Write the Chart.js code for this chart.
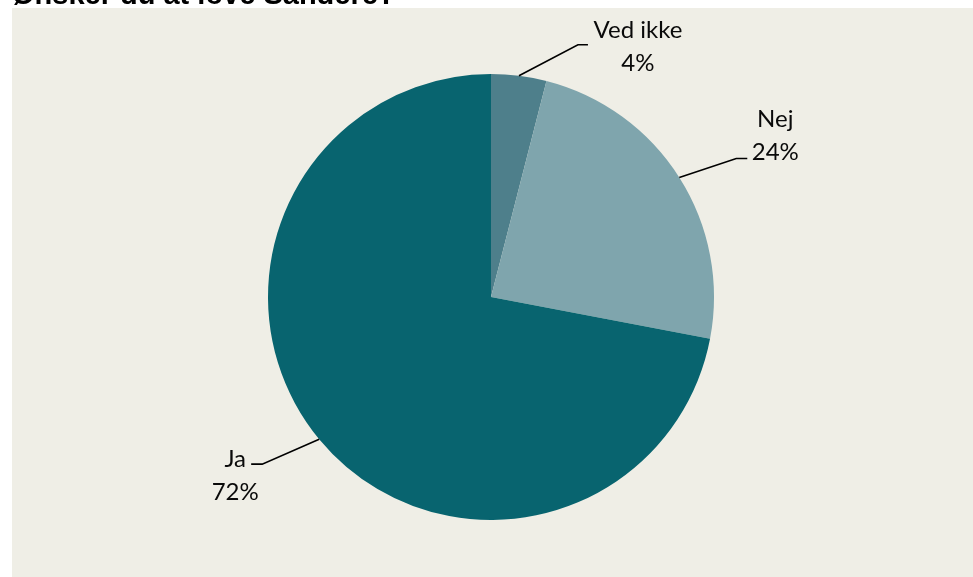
<!DOCTYPE html>
<html>
<head>
<meta charset="utf-8">
<script src="https://cdn.jsdelivr.net/npm/chart.js@4/dist/chart.umd.min.js"></script>
<style>
  html, body { margin: 0; padding: 0; background: #ffffff; }
  #wrap { position: relative; width: 973px; height: 577px; }
</style>
</head>
<body>
<div id="wrap"><canvas id="c" width="973" height="577"></canvas></div>
<script>
// Survey answers and their shares (percent)
const answers = ['Ved ikke', 'Nej', 'Ja'];
const shares = [4, 24, 72];
const sliceColors = ['#4e7f8b', '#7fa5ad', '#08646f'];
const questionTitle = 'Ønsker du at love Sandere?';

// Leader-line callout geometry per slice: elbow offset from the arc edge,
// length/direction of the short horizontal tail, and the text block's centre offset.
const callouts = [
  { elbow: [59, -31], tail: 10, text: [50, 2] },
  { elbow: [57, -19], tail: 11, text: [28, -23] },
  { elbow: [-57, 25], tail: -11, text: [-16, 11] }
];

const panelPlugin = {
  id: 'panel',
  beforeDraw(chart) {
    const ctx = chart.ctx;
    ctx.save();
    ctx.fillStyle = '#ffffff';
    ctx.fillRect(0, 0, chart.width, chart.height);
    ctx.fillStyle = '#efeee6';
    ctx.fillRect(12, 8, chart.width - 12, chart.height - 8);
    // question title, partly clipped by the top edge
    ctx.fillStyle = '#000000';
    ctx.font = 'bold 29px "Liberation Sans", Arial, sans-serif';
    ctx.textAlign = 'left';
    ctx.textBaseline = 'alphabetic';
    ctx.fillText(questionTitle, 12, 4);
    ctx.restore();
  }
};

const calloutPlugin = {
  id: 'callouts',
  afterDatasetsDraw(chart) {
    const ctx = chart.ctx;
    const meta = chart.getDatasetMeta(0);
    ctx.save();
    meta.data.forEach((arc, i) => {
      const p = arc.getProps(['x', 'y', 'startAngle', 'endAngle', 'outerRadius'], true);
      const mid = (p.startAngle + p.endAngle) / 2;
      const ax = p.x + Math.cos(mid) * p.outerRadius;
      const ay = p.y + Math.sin(mid) * p.outerRadius;
      const c = callouts[i];
      const ex = ax + c.elbow[0];
      const ey = ay + c.elbow[1];
      const tx = ex + c.tail;
      ctx.strokeStyle = '#000000';
      ctx.lineWidth = 1.6;
      ctx.beginPath();
      ctx.moveTo(ax, ay);
      ctx.lineTo(ex, ey);
      ctx.lineTo(tx, ey);
      ctx.stroke();
      const cx = tx + c.text[0];
      const cy = ey + c.text[1];
      ctx.fillStyle = '#0a0a0a';
      ctx.font = '24px Lato, "Open Sans", sans-serif';
      ctx.textAlign = 'center';
      ctx.textBaseline = 'middle';
      ctx.fillText(answers[i], cx, cy - 16);
      ctx.fillText(shares[i] + '%', cx, cy + 17);
    });
    ctx.restore();
  }
};

new Chart(document.getElementById('c'), {
  type: 'pie',
  data: {
    labels: answers,
    datasets: [{
      data: shares,
      backgroundColor: sliceColors,
      borderWidth: 0,
      hoverOffset: 0
    }]
  },
  options: {
    responsive: false,
    animation: false,
    events: [],
    layout: { padding: { top: 74, bottom: 57, left: 9, right: 0 } },
    plugins: {
      legend: { display: false },
      tooltip: { enabled: false },
      title: { display: false }
    }
  },
  plugins: [panelPlugin, calloutPlugin]
});
</script>
</body>
</html>
